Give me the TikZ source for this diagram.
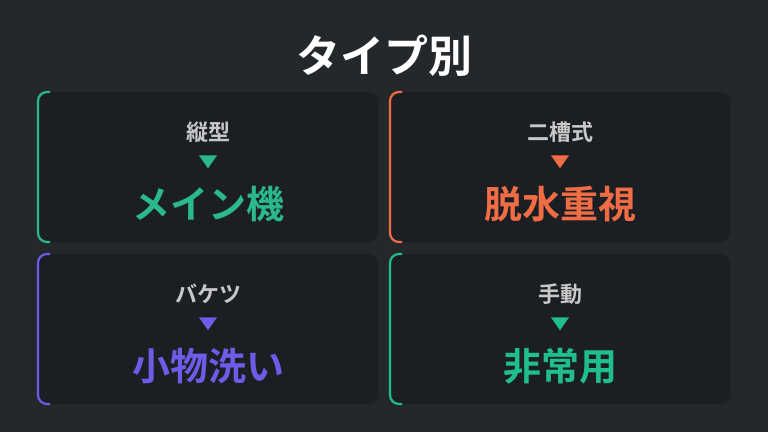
\documentclass[tikz,border=0pt]{standalone}
\usepackage{fontspec}
\setmainfont{Noto Sans CJK JP}
\newfontfamily\jpbold{Noto Sans CJK JP Bold}
\usetikzlibrary{positioning,shapes.geometric}
\definecolor{bgdark}{HTML}{24282B}
\definecolor{cardbg}{HTML}{1A1D22}
\definecolor{labelgray}{HTML}{C8C8C8}
\definecolor{teal}{HTML}{2BB88F}
\definecolor{coral}{HTML}{EF6C45}
\definecolor{violet}{HTML}{6F5BE8}
\definecolor{mint}{HTML}{1FBE8A}
\tikzset{
  cardbox/.style={fill=cardbg, fill opacity=0.85, rounded corners=9pt},
  toplabel/.style={text=labelgray, font=\jpbold\fontsize{22}{24}\selectfont},
  mainlabel/.style={font=\jpbold\fontsize{38}{40}\selectfont},
  pointer/.style={isosceles triangle, shape border rotate=-90, isosceles triangle apex angle=70,
    inner sep=0pt, minimum width=17pt, minimum height=13pt, draw=none}
}
\begin{document}
\begin{tikzpicture}[x=1pt,y=-1pt]
  % background
  \fill[bgdark] (0,0) rectangle (768,432);
  \useasboundingbox (0,0) rectangle (768,432);
  \node[text=white, font=\jpbold\fontsize{44}{46}\selectfont] (title) at (384,56) {タイプ別};
  % (x, y, colour, label, main text, name)
  \def\card#1#2#3#4#5#6{
    \fill[cardbox] (#1,#2) rectangle ++(340,150);
    \draw[#3, line width=2.2pt, rounded corners=9pt] (#1+12,#2) -- (#1,#2) -- (#1,#2+150) -- (#1+12,#2+150);
    \node[toplabel] (#6top) at (#1+170,#2+40) {#4};
    \node[pointer, fill=#3] (#6tri) at (#1+170,#2+68) {};
    \node[mainlabel, text=#3] (#6main) at (#1+170,#2+112) {#5};
  }
  \card{38}{92}{teal}{縦型}{メイン機}{vertical}
  \card{390}{92}{coral}{二槽式}{脱水重視}{twin}
  \card{38}{254}{violet}{バケツ}{小物洗い}{bucket}
  \card{390}{254}{mint}{手動}{非常用}{manual}
\end{tikzpicture}
\end{document}
